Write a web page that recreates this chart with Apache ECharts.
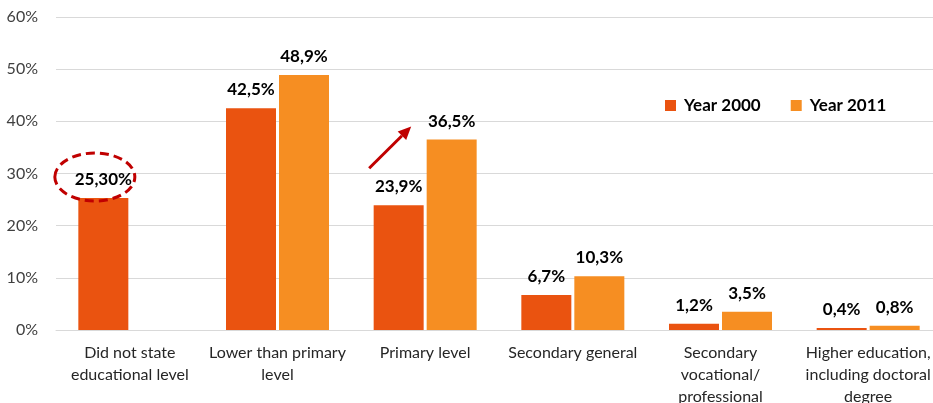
<!DOCTYPE html>
<html>
<head>
<meta charset="utf-8">
<script src="https://cdn.jsdelivr.net/npm/echarts@6/dist/echarts.min.js"></script>
<style>
  html, body { margin: 0; padding: 0; background: #fff; }
  #chart { width: 933px; height: 403px; }
</style>
</head>
<body>
<div id="chart"></div>
<script>
// data
var categories = [
  'Did not state\neducational level',
  'Lower than primary\nlevel',
  'Primary level',
  'Secondary general',
  'Secondary\nvocational/\nprofessional',
  'Higher education,\nincluding doctoral\ndegree'
];
var year2000 = [25.3, 42.5, 23.9, 6.7, 1.2, 0.4];
var year2011 = [null, 48.9, 36.5, 10.3, 3.5, 0.8];
var decimals2000 = [2, 1, 1, 1, 1, 1];
var seriesNames = ['Year 2000', 'Year 2011'];

var FONT = 'Lato';
var RED = '#C00000';

function fmt(v, d) {
  return v.toFixed(d).replace('.', ',') + '%';
}

var chart = echarts.init(document.getElementById('chart'));

var labelStyle = {
  show: true,
  position: 'top',
  distance: 10,
  fontFamily: FONT,
  fontWeight: 'bold',
  fontSize: 17,
  color: '#000'
};

chart.setOption({
  animation: false,
  // plot area runs a few px past the right edge, as in the source
  grid: { left: 56, top: 17, bottom: 73, width: 886, outerBoundsMode: 'none', containLabel: false },
  legend: {
    left: 660,
    top: 92,
    itemWidth: 11,
    itemHeight: 11,
    itemGap: 30,
    icon: 'rect',
    textStyle: { fontFamily: FONT, fontWeight: 'bold', fontSize: 17, color: '#000', padding: [0, 0, 0, 3] },
    data: seriesNames
  },
  xAxis: {
    type: 'category',
    data: categories,
    axisTick: { show: false },
    axisLine: { lineStyle: { color: '#D9D9D9', width: 1 } },
    axisLabel: {
      interval: 0,
      margin: 12,
      fontFamily: FONT,
      fontSize: 16,
      lineHeight: 22,
      color: '#262626'
    }
  },
  yAxis: {
    type: 'value',
    min: 0,
    max: 60,
    interval: 10,
    axisLine: { show: false },
    axisTick: { show: false },
    splitLine: { lineStyle: { color: '#D9D9D9', width: 1 } },
    axisLabel: {
      formatter: '{value}%',
      margin: 18,
      fontFamily: FONT,
      fontSize: 16,
      color: '#404040'
    }
  },
  series: [
    {
      name: seriesNames[0],
      type: 'bar',
      data: year2000,
      barWidth: 50,
      barGap: '6%',
      itemStyle: { color: '#EA5310' },
      label: Object.assign({}, labelStyle, {
        formatter: function (p) { return fmt(p.value, decimals2000[p.dataIndex]); }
      })
    },
    {
      name: seriesNames[1],
      type: 'bar',
      data: year2011,
      barWidth: 50,
      barGap: '6%',
      itemStyle: { color: '#F68E22' },
      label: Object.assign({}, labelStyle, {
        formatter: function (p) { return fmt(p.value, 1); }
      })
    }
  ]
});

// annotations: dashed ellipse round the first label, arrow at primary level
var c0 = chart.convertToPixel({ gridIndex: 0 }, [0, year2000[0]]);
var ellipseCx = c0[0] - 35;
var ellipseCy = c0[1] - 21;

var a0 = chart.convertToPixel({ gridIndex: 0 }, [2, 31]);
var a1 = chart.convertToPixel({ gridIndex: 0 }, [2, 39]);
var x0 = a0[0] - 56, y0 = a0[1];
var x1 = a1[0] - 14, y1 = a1[1];
var ang = Math.atan2(y1 - y0, x1 - x0);
var headLen = 13, headW = 6;
var bx = x1 - headLen * Math.cos(ang), by = y1 - headLen * Math.sin(ang);
var head = [
  [x1, y1],
  [bx + headW * Math.sin(ang), by - headW * Math.cos(ang)],
  [bx - headW * Math.sin(ang), by + headW * Math.cos(ang)]
];

chart.setOption({
  graphic: [
    {
      type: 'ellipse',
      shape: { cx: ellipseCx, cy: ellipseCy, rx: 40, ry: 24 },
      style: { fill: 'none', stroke: RED, lineWidth: 3, lineDash: [9, 5] },
      z: 100
    },
    {
      type: 'line',
      shape: { x1: x0, y1: y0, x2: bx, y2: by },
      style: { stroke: RED, lineWidth: 3 },
      z: 100
    },
    {
      type: 'polygon',
      shape: { points: head },
      style: { fill: RED },
      z: 100
    }
  ]
});
</script>
</body>
</html>
